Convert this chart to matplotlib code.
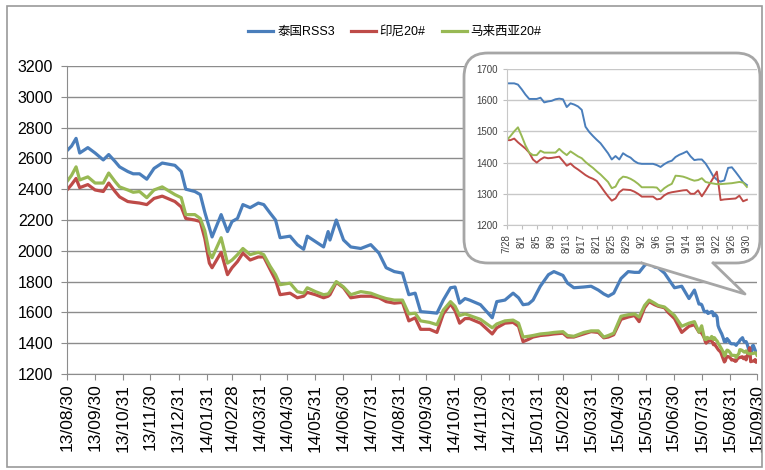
import matplotlib
matplotlib.use("Agg")
import matplotlib.pyplot as plt
from matplotlib.patches import FancyBboxPatch, Polygon, Rectangle
import pandas as pd

# series names and colors
series_names = ["泰国RSS3", "印尼20#", "马来西亚20#"]
colors = ["#4a7ebb", "#be4b48", "#98b954"]

# main chart, readings until 2015-07-23
main_dates = [
    "2013-08-30", "2013-09-04", "2013-09-09", "2013-09-13", "2013-09-22", "2013-09-30",
    "2013-10-09", "2013-10-15", "2013-10-22", "2013-10-27", "2013-11-05", "2013-11-11",
    "2013-11-18", "2013-11-26", "2013-12-04", "2013-12-13", "2013-12-27", "2014-01-03",
    "2014-01-08", "2014-01-18", "2014-01-24", "2014-01-29", "2014-02-03", "2014-02-06",
    "2014-02-16", "2014-02-23", "2014-02-28", "2014-03-06", "2014-03-12", "2014-03-20",
    "2014-03-29", "2014-04-04", "2014-04-11", "2014-04-17", "2014-04-22", "2014-05-03",
    "2014-05-11", "2014-05-18", "2014-05-22", "2014-05-31", "2014-06-09", "2014-06-14",
    "2014-06-16", "2014-06-23", "2014-07-01", "2014-07-09", "2014-07-20", "2014-07-31",
    "2014-08-09", "2014-08-17", "2014-08-26", "2014-09-04", "2014-09-11", "2014-09-18",
    "2014-09-24", "2014-10-04", "2014-10-12", "2014-10-19", "2014-10-27", "2014-11-01",
    "2014-11-06", "2014-11-12", "2014-11-17", "2014-11-29", "2014-12-12", "2014-12-17",
    "2014-12-26", "2015-01-04", "2015-01-10", "2015-01-15", "2015-01-21", "2015-01-26",
    "2015-02-03", "2015-02-12", "2015-02-18", "2015-02-28", "2015-03-05", "2015-03-12",
    "2015-03-23", "2015-03-31", "2015-04-08", "2015-04-14", "2015-04-19", "2015-04-25",
    "2015-05-03", "2015-05-11", "2015-05-18", "2015-05-23", "2015-05-29", "2015-06-03",
    "2015-06-09", "2015-06-13", "2015-06-20", "2015-06-24", "2015-07-01", "2015-07-09",
    "2015-07-17", "2015-07-23",
]
rss3_main = [
    2650, 2680, 2730, 2635, 2670, 2635, 2590, 2625, 2580, 2545,
    2515, 2500, 2500, 2465, 2535, 2570, 2555, 2515, 2400, 2385,
    2365, 2250, 2150, 2090, 2235, 2125, 2190, 2210, 2300, 2280,
    2310, 2300, 2245, 2200, 2085, 2095, 2040, 2010, 2095, 2060,
    2025, 2125, 2070, 2200, 2070, 2025, 2015, 2040, 1985, 1890,
    1865, 1855, 1715, 1725, 1605, 1600, 1595, 1680, 1760, 1765,
    1660, 1690, 1680, 1650, 1565, 1670, 1680, 1725, 1695, 1650,
    1655, 1680, 1770, 1845, 1865, 1840, 1790, 1760, 1765, 1770,
    1745, 1720, 1705, 1725, 1820, 1865, 1860, 1860, 1905, 1925,
    1895, 1890, 1855, 1820, 1760, 1770, 1690, 1745,
]
indo_main = [
    2395, 2430, 2470, 2410, 2430, 2395, 2385, 2440, 2385, 2350,
    2320, 2315, 2310, 2300, 2340, 2355, 2320, 2285, 2210, 2200,
    2190, 2080, 1920, 1890, 1990, 1845, 1890, 1930, 1985, 1940,
    1960, 1960, 1880, 1810, 1715, 1725, 1695, 1705, 1730, 1715,
    1695, 1705, 1715, 1795, 1760, 1695, 1705, 1705, 1695, 1670,
    1660, 1665, 1545, 1565, 1490, 1490, 1470, 1590, 1655, 1610,
    1530, 1560, 1560, 1530, 1460, 1500, 1530, 1535, 1510, 1410,
    1425, 1440, 1450, 1455, 1460, 1465, 1440, 1440, 1460, 1475,
    1470, 1435, 1440, 1455, 1555, 1570, 1580, 1540, 1630, 1670,
    1650, 1640, 1630, 1600, 1560, 1470, 1510, 1520,
]
malay_main = [
    2450, 2490, 2545, 2460, 2480, 2440, 2440, 2505, 2450, 2415,
    2395, 2380, 2385, 2345, 2395, 2415, 2365, 2345, 2235, 2235,
    2210, 2130, 1985, 1955, 2085, 1920, 1940, 1975, 2015, 1975,
    1990, 1975, 1900, 1845, 1780, 1790, 1735, 1725, 1760, 1735,
    1715, 1720, 1735, 1800, 1765, 1715, 1735, 1725, 1705, 1690,
    1680, 1680, 1590, 1595, 1545, 1535, 1520, 1615, 1670, 1640,
    1580, 1590, 1580, 1555, 1500, 1525, 1545, 1550, 1530, 1440,
    1445, 1450, 1460, 1465, 1470, 1475, 1450, 1445, 1470, 1480,
    1480, 1440, 1450, 1465, 1575, 1585, 1590, 1570, 1645, 1680,
    1660, 1645, 1635, 1615, 1580, 1510, 1530, 1540,
]

# inset: daily 2015-07-28 .. 2015-09-30
inset_dates = pd.date_range("2015-07-28", "2015-09-30", freq="D")
rss3_inset = [
    1654, 1654, 1654, 1650, 1635, 1618, 1604, 1604, 1604, 1608,
    1593, 1596, 1598, 1603, 1605, 1603, 1578, 1590, 1586, 1580,
    1569, 1515, 1498, 1485, 1473, 1462, 1446, 1430, 1410, 1421,
    1410, 1430, 1422, 1416, 1405, 1398, 1396, 1396, 1396, 1396,
    1392, 1386, 1395, 1402, 1406, 1418, 1425, 1430, 1436, 1420,
    1408, 1410, 1410, 1397, 1378, 1357, 1345, 1339, 1343, 1383,
    1385, 1370, 1354, 1337, 1328,
]
indo_inset = [
    1472, 1472, 1477, 1465, 1455, 1445, 1432, 1410, 1400, 1410,
    1417, 1414, 1415, 1417, 1419, 1405, 1390, 1397, 1386, 1378,
    1369, 1360, 1353, 1348, 1341, 1325, 1308, 1292, 1278, 1285,
    1305, 1314, 1313, 1312, 1307, 1300, 1291, 1291, 1291, 1291,
    1282, 1284, 1295, 1302, 1305, 1307, 1309, 1311, 1312, 1300,
    1300, 1311, 1292, 1310, 1330, 1350, 1371, 1280, 1282, 1283,
    1284, 1285, 1294, 1276, 1281,
]
malay_inset = [
    1472, 1485, 1500, 1513, 1485, 1455, 1432, 1424, 1424, 1438,
    1432, 1432, 1432, 1432, 1444, 1433, 1424, 1436, 1428, 1420,
    1414, 1402, 1392, 1383, 1372, 1362, 1350, 1338, 1318, 1323,
    1345, 1355, 1353, 1348, 1341, 1332, 1321, 1321, 1321, 1321,
    1320, 1307, 1318, 1326, 1332, 1358, 1357, 1355, 1351, 1346,
    1342, 1344, 1350, 1338, 1335, 1333, 1331, 1331, 1332, 1333,
    1334, 1336, 1338, 1336, 1322,
]

main_ticks = [
    "2013-08-30", "2013-09-30", "2013-10-31", "2013-11-30", "2013-12-31",
    "2014-01-31", "2014-02-28", "2014-03-31", "2014-04-30", "2014-05-31",
    "2014-06-30", "2014-07-31", "2014-08-31", "2014-09-30", "2014-10-31",
    "2014-11-30", "2014-12-31", "2015-01-31", "2015-02-28", "2015-03-31",
    "2015-04-30", "2015-05-31", "2015-06-30", "2015-07-31", "2015-08-31",
    "2015-09-30",
]

plt.rcParams["font.family"] = ["Liberation Sans", "Noto Sans CJK SC", "DejaVu Sans"]

W, H = 765, 470
fig = plt.figure(figsize=(W / 100, H / 100), dpi=100)

# main axes
ax = fig.add_axes([67 / W, 1 - 374 / H, 690 / W, 308 / H], zorder=1)
all_dates = pd.to_datetime(main_dates).append(inset_dates)
main_series = [rss3_main + rss3_inset, indo_main + indo_inset, malay_main + malay_inset]
handles = []
for vals, c in zip(main_series, colors):
    h, = ax.plot(all_dates, vals, color=c, lw=2.3, solid_joinstyle="round")
    handles.append(h)

ax.set_ylim(1200, 3200)
ax.set_yticks(range(1200, 3201, 200))
ax.set_xlim(pd.Timestamp("2013-08-30"), pd.Timestamp("2015-09-30"))
tick_dates = pd.to_datetime(main_ticks)
ax.set_xticks(tick_dates)
ax.set_xticklabels([d.strftime("%y/%m/%d") for d in tick_dates], rotation=90, fontsize=12.5)
ax.tick_params(axis="y", labelsize=11.5, length=4, color="#8c8c8c", pad=6)
ax.tick_params(axis="x", length=4, color="#8c8c8c", pad=3)
ax.grid(axis="y", color="#8c8c8c", lw=1)
ax.set_axisbelow(True)
for s in ["top", "right"]:
    ax.spines[s].set_visible(False)
for s in ["left", "bottom"]:
    ax.spines[s].set_color("#8c8c8c")

fig.legend(handles, series_names, loc="center", bbox_to_anchor=(395 / W, 1 - 32 / H),
           ncol=3, frameon=False, fontsize=9, handlelength=2.0,
           handletextpad=0.3, columnspacing=1.3)

# overlay in pixel coordinates for the border and the callout bubble
ov = fig.add_axes([0, 0, 1, 1], zorder=2)
ov.set_xlim(0, W)
ov.set_ylim(H, 0)
ov.axis("off")
ov.add_patch(Rectangle((7, 6), 755, 461, fill=False, ec="#9a9a9a", lw=1.2))
ov.add_patch(FancyBboxPatch((464, 53), 296, 210, boxstyle="round,pad=0,rounding_size=24",
                            fc="white", ec="#a6a6a6", lw=2))
ov.add_patch(Polygon([(642, 258), (642, 263), (745, 294), (713, 263), (713, 258)],
                     closed=True, fc="white", ec="none"))
ov.plot([642, 745, 713], [263, 294, 263], color="#a6a6a6", lw=2)

# inset axes
ins = fig.add_axes([506.7 / W, 1 - 225 / H, 250.3 / W, 156 / H], zorder=3)
ins.patch.set_alpha(0)
for vals, c in zip([rss3_inset, indo_inset, malay_inset], colors):
    ins.plot(inset_dates, vals, color=c, lw=1.4)
ins.set_ylim(1200, 1700)
ins.set_yticks(range(1200, 1701, 100))
x0 = inset_dates[0]
ins.set_xlim(x0, x0 + pd.Timedelta(days=66.7))
inset_ticks = inset_dates[::4]
ins.set_xticks(inset_ticks)
ins.set_xticklabels([f"{d.month}/{d.day}" for d in inset_ticks], rotation=90)
ins.tick_params(labelsize=7, colors="#404040", length=3)
ins.tick_params(color="#bfbfbf")
ins.grid(axis="y", color="#c8c8c8", lw=1)
ins.set_axisbelow(True)
for s in ["top", "right"]:
    ins.spines[s].set_visible(False)
for s in ["left", "bottom"]:
    ins.spines[s].set_color("#c8c8c8")

fig.savefig("out.png", dpi=100)
